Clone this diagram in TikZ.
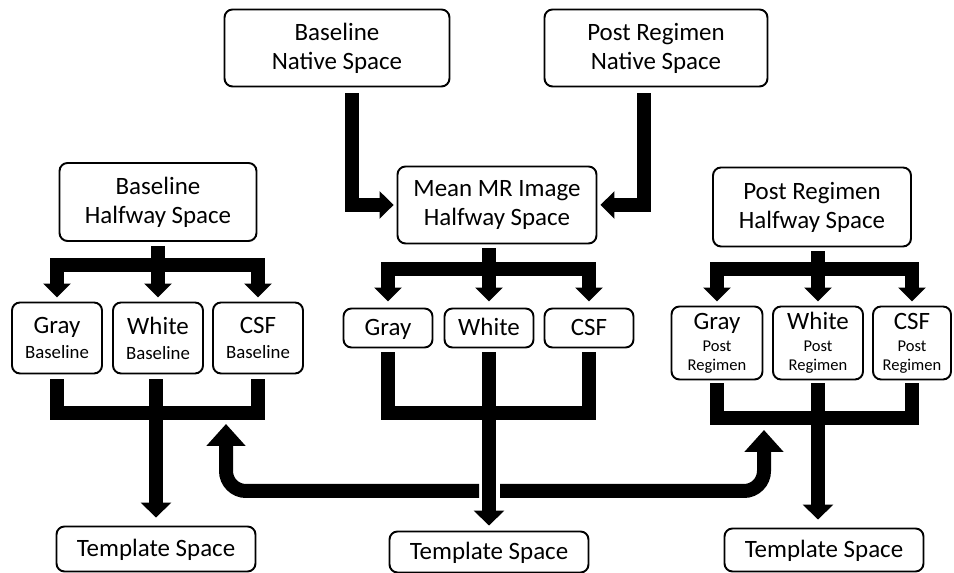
\documentclass[tikz,border=0pt]{standalone}
\usepackage{fontspec}
\setmainfont{Carlito}
\usetikzlibrary{arrows.meta}
\newcommand{\subtxt}{\fontsize{10.7pt}{12pt}\selectfont}
\newcommand{\subtxtp}{\fontsize{9.4pt}{11pt}\selectfont}

\begin{document}
\begin{tikzpicture}[x=0.02cm, y=0.02cm, font=\fontsize{14.2pt}{16.5pt}\selectfont,
  box/.style={draw, line width=1.1pt, rounded corners=0.16cm, align=center, inner sep=0pt},
  oneline/.style={text height=0.3cm, text depth=0cm},
  fat/.style={line width=0.28cm},
  treehead/.style={-{Triangle[width=0.54cm, length=0.28cm]}},
  downhead/.style={-{Triangle[width=0.6cm, length=0.3cm]}},
  loophead/.style={-{Triangle[width=0.76cm, length=0.44cm]}}]
  \useasboundingbox (0,0) rectangle (954,-573);
  % native and halfway spaces
  \node[box, minimum width=4.5cm, minimum height=1.54cm] (bnative) at (337,-48) {Baseline\\Native Space};
  \node[box, minimum width=4.46cm, minimum height=1.54cm] (pnative) at (656,-48) {Post Regimen\\Native Space};
  \node[box, minimum width=3.98cm, minimum height=1.54cm] (mean) at (497,-205) {Mean MR Image\\Halfway Space};
  \node[box, minimum width=3.94cm, minimum height=1.56cm] (bhalf) at (158,-202) {Baseline\\Halfway Space};
  \node[box, minimum width=3.96cm, minimum height=1.58cm] (phalf) at (812,-207) {Post Regimen\\Halfway Space};
  % tissue classes
  \node[box, minimum width=1.8cm, minimum height=1.42cm] (bgray) at (57,-338) {Gray\\[-2.3pt]\subtxt Baseline};
  \node[box, minimum width=1.8cm, minimum height=1.42cm] (bwhite) at (158,-338) {White\\[-2.3pt]\subtxt Baseline};
  \node[box, minimum width=1.8cm, minimum height=1.42cm] (bcsf) at (258,-338) {CSF\\[-2.3pt]\subtxt Baseline};
  \node[box, oneline, minimum width=1.78cm, minimum height=0.78cm] (mgray) at (388,-328) {Gray};
  \node[box, oneline, minimum width=1.78cm, minimum height=0.78cm] (mwhite) at (489,-328) {White};
  \node[box, oneline, minimum width=1.78cm, minimum height=0.78cm] (mcsf) at (589,-328) {CSF};
  \node[box, minimum width=1.82cm, minimum height=1.46cm] (pgray) at (717,-343) {Gray\\[-4pt]\subtxtp Post\\[-5.7pt]\subtxtp Regimen};
  \node[box, minimum width=1.8cm, minimum height=1.46cm] (pwhite) at (818,-343) {White\\[-4pt]\subtxtp Post\\[-5.7pt]\subtxtp Regimen};
  \node[box, minimum width=1.56cm, minimum height=1.46cm] (pcsf) at (912,-343) {CSF\\[-4pt]\subtxtp Post\\[-5.7pt]\subtxtp Regimen};
  % template
  \node[box, oneline, minimum width=3.98cm, minimum height=0.9cm] (btemp) at (156,-549) {Template Space};
  \node[box, oneline, minimum width=3.98cm, minimum height=0.82cm] (mtemp) at (489,-552) {Template Space};
  \node[box, oneline, minimum width=3.98cm, minimum height=0.86cm] (ptemp) at (824,-550) {Template Space};

  \coordinate (bfork) at (158,-265);
  \coordinate (mfork) at (489,-269);
  \coordinate (pfork) at (818,-269);
  \coordinate (bjoin) at (156,-413);
  \coordinate (mjoin) at (489,-413);
  \coordinate (pjoin) at (818,-418);
  \coordinate (lhub) at (479,-491);
  \coordinate (rhub) at (500,-491);
  \coordinate (ltip) at (226,-424);
  \coordinate (rtip) at (764,-430);

  \draw[fat, treehead, shorten <=0.12cm, shorten >=0.06cm] ([xshift=0.3cm]bnative.south) |- (mean.west);
  \draw[fat, treehead, shorten <=0.12cm, shorten >=0.06cm] ([xshift=-0.24cm]pnative.south) |- (mean.east);

  \draw[fat, shorten <=0.08cm] (bhalf.south -| bfork) -- (bfork);
  \draw[fat, shorten <=0.08cm] (mean.south -| mfork) -- (mfork);
  \draw[fat, shorten <=0.08cm] (phalf.south -| pfork) -- (pfork);
  \foreach \n in {bgray,bwhite,bcsf}
    \draw[fat, treehead, shorten >=0.08cm] (bfork) -| (\n.north);
  \foreach \n in {mgray,mwhite,mcsf}
    \draw[fat, treehead, shorten >=0.12cm] (mfork) -| (\n.north);
  \foreach \n in {pgray,pwhite,pcsf}
    \draw[fat, treehead, shorten >=0.08cm] (pfork) -| (\n.north);

  % brackets down to template space
  \draw[fat, shorten <=0.1cm, shorten >=0.1cm] (bgray.south) |- (bjoin) -| (bcsf.south);
  \draw[fat, shorten <=0.1cm] (bwhite.south -| bjoin) -- (bjoin);
  \draw[fat, shorten <=0.08cm, shorten >=0.08cm] (mgray.south) |- (mjoin) -| (mcsf.south);
  \draw[fat, shorten <=0.08cm] (mwhite.south) -- (mjoin);
  \draw[fat, shorten <=0.06cm, shorten >=0.06cm] (pgray.south) |- (pjoin) -| (pcsf.south);
  \draw[fat, shorten <=0.06cm] (pwhite.south) -- (pjoin);

  \draw[fat, loophead, rounded corners=0.4cm] (lhub) -| (ltip);
  \draw[fat, loophead, rounded corners=0.4cm] (rhub) -| (rtip);

  \draw[fat, downhead, shorten >=0.16cm] (bjoin) -- (bjoin |- btemp.north);
  \draw[fat, downhead, shorten >=0.1cm] (mjoin) -- (mjoin |- mtemp.north);
  \draw[fat, downhead, shorten >=0.16cm] (pjoin) -- (pjoin |- ptemp.north);
\end{tikzpicture}
\end{document}
